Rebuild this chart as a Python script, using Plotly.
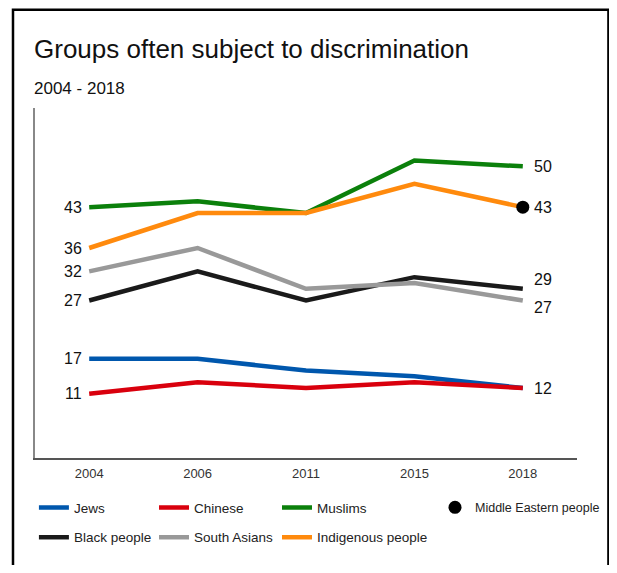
import plotly.graph_objects as go

years = ["2004", "2006", "2011", "2015", "2018"]
jews = [17, 17, 15, 14, 12]
chinese = [11, 13, 12, 13, 12]
muslims = [43, 44, 42, 51, 50]
black_people = [27, 32, 27, 31, 29]
south_asians = [32, 36, 29, 30, 27]
indigenous = [36, 42, 42, 47, 43]
middle_eastern_year = ["2018"]
middle_eastern = [43]

# name, values, colour, legend slot, left-label nudge, right-label nudge
series = [
    ("Jews", jews, "#0057AD", "legend", 0, 0),
    ("Chinese", chinese, "#D9000D", "legend2", 0, 0),
    ("Muslims", muslims, "#0B800B", "legend3", 0, 0),
    ("Black people", black_people, "#1A1A1A", "legend5", 0, 9),
    ("South Asians", south_asians, "#999999", "legend6", 0, -7),
    ("Indigenous people", indigenous, "#FF8A0D", "legend7", 0, 0),
]

SANS = "Liberation Sans, Arial, sans-serif"
LABEL_FONT = dict(family=SANS, size=16, color="#111111")

fig = go.Figure()
annotations = []
last = len(years) - 1
for name, vals, color, leg, lshift, rshift in series:
    fig.add_trace(go.Scatter(
        x=years, y=vals, mode="lines", name=name,
        line=dict(color=color, width=4.5), legend=leg,
    ))
    # category axis: annotation x is the category index
    annotations.append(dict(x=0, y=vals[0], xref="x", yref="y",
                            text=str(vals[0]), showarrow=False, xanchor="right",
                            xshift=-5, yshift=lshift, font=LABEL_FONT))
    if name != "Chinese":
        annotations.append(dict(x=last, y=vals[-1], xref="x", yref="y",
                                text=str(vals[-1]), showarrow=False, xanchor="left",
                                xshift=9, yshift=rshift, font=LABEL_FONT))

fig.add_trace(go.Scatter(
    x=middle_eastern_year, y=middle_eastern, mode="markers", name="Middle Eastern people",
    marker=dict(color="#000000", size=13), legend="legend4",
))

annotations.append(dict(text="Groups often subject to discrimination", xref="paper", yref="paper",
                        x=-0.006, y=1.17, xanchor="left", yanchor="middle", showarrow=False,
                        font=dict(family=SANS, size=26, color="#111111")))
annotations.append(dict(text="2004 - 2018", xref="paper", yref="paper",
                        x=-0.006, y=1.057, xanchor="left", yanchor="middle", showarrow=False,
                        font=dict(family=SANS, size=17, color="#111111")))


def leg(x, y, size=13.5):
    return dict(orientation="h", font=dict(family=SANS, size=size, color="#222222"),
                bgcolor="rgba(0,0,0,0)", xanchor="left", yanchor="middle",
                itemclick=False, x=x, y=y)


col = [-0.002, 0.2196, 0.4465]
row = [-0.142, -0.227]

fig.update_layout(
    width=609, height=557,
    margin=dict(l=27, r=40, t=100, b=105),
    plot_bgcolor="white", paper_bgcolor="white",
    showlegend=True,
    xaxis=dict(type="category", range=[-0.5, 4.5], showgrid=False, zeroline=False,
               showline=True, linecolor="#555555", linewidth=1.5, ticks="",
               ticklabelstandoff=3,
               tickfont=dict(family=SANS, size=13, color="#333333"), fixedrange=True),
    yaxis=dict(range=[0, 60], showgrid=False, zeroline=False, showticklabels=False,
               showline=True, linecolor="#888888", linewidth=2, ticks="", fixedrange=True),
    legend=leg(col[0], row[0]),
    legend2=leg(col[1], row[0]),
    legend3=leg(col[2], row[0]),
    legend4=leg(0.738, row[0], size=12.5),
    legend5=leg(col[0], row[1]),
    legend6=leg(col[1], row[1]),
    legend7=leg(col[2], row[1]),
    annotations=annotations,
    shapes=[dict(type="rect", xref="paper", yref="paper", x0=-0.0406, x1=1.058, y0=-0.5, y1=1.281,
                 line=dict(color="#000000", width=2.5), fillcolor="rgba(0,0,0,0)", layer="above")],
)

fig.write_html("out.html")
